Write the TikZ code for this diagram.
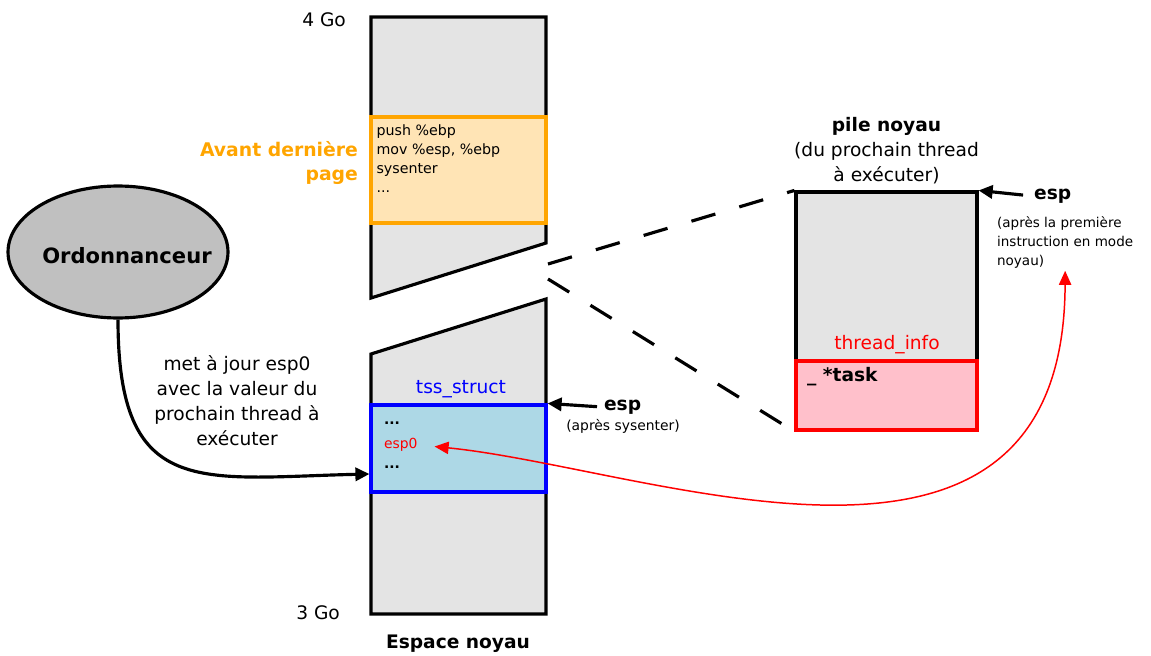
\documentclass[tikz,border=0pt]{standalone}
\usepackage{fontspec}
\setmainfont{DejaVu Sans}
\usetikzlibrary{shapes.geometric,arrows.meta,positioning}

\definecolor{gris}{HTML}{E4E4E4}
\definecolor{grisfonce}{HTML}{C0C0C0}
\definecolor{orange}{HTML}{FFA500}
\definecolor{mocassin}{HTML}{FFE4B5}
\definecolor{bleuclair}{HTML}{ADD8E6}
\definecolor{rose}{HTML}{FFC0CB}

\tikzset{
    bloc/.style={draw, line width=1.8pt, fill=gris},
    boite/.style={draw, line width=1.8pt, inner sep=0pt, minimum width=3.5cm},
    grand/.style={inner sep=1pt, font=\fontsize{10.6}{14.2}\selectfont},
    gras/.style={inner sep=1pt, font=\fontsize{10.6}{14.2}\selectfont\bfseries},
    petit/.style={inner sep=1pt, font=\fontsize{7.9}{10.8}\selectfont},
    fleche/.style={line width=1.8pt, -{Triangle[length=8pt,width=7.5pt]}},
    tirets/.style={line width=1.8pt, dash pattern=on 14.2pt off 14.2pt},
    rouge/.style={draw=red, line width=0.85pt, {Triangle[length=8pt,width=7pt]}-{Triangle[length=8pt,width=7pt]}}
}

\begin{document}
\begin{tikzpicture}[x=0.02cm, y=-0.02cm]
    \useasboundingbox (0,0) rectangle (1151,655);
    %espace noyau
    \begin{scope}
    \filldraw[bloc] (371,17) -- (546,17) -- (546,243) -- (371,298) -- cycle;
    \filldraw[bloc] (371,354) -- (546,299) -- (546,614) -- (371,614) -- cycle;
    \node[boite, draw=orange, fill=mocassin, minimum height=2.12cm] (page) at (458.5,170) {};
    \node[petit, align=left, font=\fontsize{8.1}{10.8}\selectfont, below right=0.15cm and 0.1cm of page.north west] (code) {push \%ebp\\mov \%esp, \%ebp\\sysenter\\...};
    \node[gras, align=right, anchor=east, text=orange, font=\fontsize{10.7}{14.2}\selectfont\bfseries] (avant) at (360,163) {Avant dernière\\page};
    \node[boite, draw=blue, fill=bleuclair, minimum height=1.74cm] (tss) at (458.5,448.5) {};
    \node[grand, text=blue] (tssnom) at (461,389) {tss\_struct};
    \node[petit, anchor=west] (dots1) at (382,423) {\textbf{...}};
    \node[petit, anchor=west, text=red] (esp0) at (382,445) {esp0};
    \node[petit, anchor=west] (dots2) at (382,467) {\textbf{...}};
    \node[grand, anchor=east] (haut) at (348,20) {4 Go};
    \node[grand, anchor=east] (bas) at (342,613) {3 Go};
    \node[gras] (espace) at (458,644) {Espace noyau};
    \node[gras, anchor=west] (espA) at (602,407) {esp};
    \node[petit] (sysent) at (623,426) {(après sysenter)};
    \draw[fleche, shorten <=0.1cm] (espA.west) -- (tss.north east);
    \end{scope}
    %ordonnanceur
    \node[ellipse, draw, line width=1.8pt, fill=grisfonce, inner sep=0pt, minimum width=4.4cm, minimum height=2.64cm] (ordo) at (118,252) {};
    \node[inner sep=1pt, font=\fontsize{12}{14}\selectfont\bfseries] (ordonom) at (127,256) {Ordonnanceur};
    \node[grand, align=center] (majesp) at (237,401) {met à jour esp0\\avec la valeur du\\prochain thread à\\exécuter};
    \draw[fleche] (ordo.south) .. controls (118,500) and (200,478) .. ([yshift=-0.51cm]tss.west);
    %pile noyau
    \node[bloc, inner sep=0pt, minimum width=3.62cm, minimum height=4.76cm] (pile) at (886.5,311) {};
    \node[draw=red, fill=rose, line width=1.8pt, inner sep=0pt, minimum width=3.62cm, minimum height=1.38cm] (tinfo) at (886.5,395.5) {};
    \node[grand, text=red] (tinfonom) at (887,345) {thread\_info};
    \node[gras, anchor=west] (task) at (805,377) {\_ *task};
    \node[grand, align=center, above=0.08cm of pile] (titre) {\textbf{pile noyau}\\(du prochain thread\\à exécuter)};
    \node[gras, anchor=west] (espB) at (1032,196) {esp};
    \node[petit, align=left, anchor=north west, font=\fontsize{7.7}{10.8}\selectfont] (note) at (995,215) {(après la première\\instruction en mode\\noyau)};
    \draw[fleche, shorten <=0.18cm] (espB.west) -- (pile.north east);
    %cassure
    \coordinate (cassure1) at (548,264);
    \coordinate (cassure2) at (548,279);
    \draw[tirets] (cassure1) -- (pile.north west);
    \draw[tirets] (cassure2) -- (pile.south west);
    \draw[rouge, shorten <=0.3cm] (esp0.east) .. controls (650,468) and (1064,635) .. (note.south);
\end{tikzpicture}
\end{document}
